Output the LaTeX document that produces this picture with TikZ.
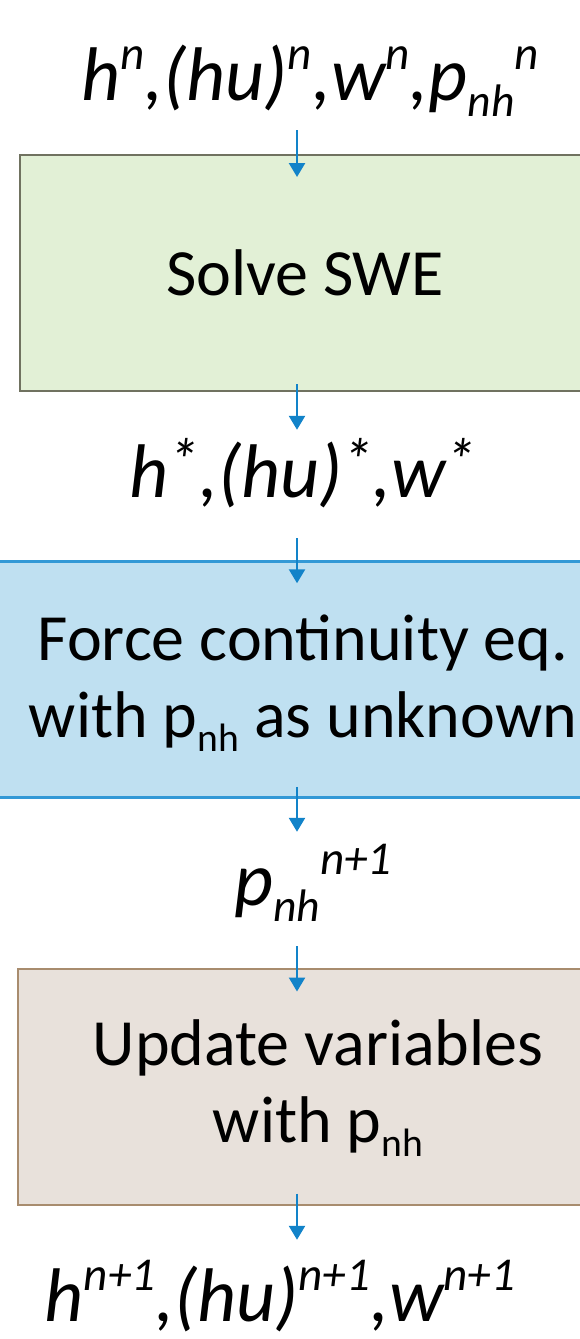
\documentclass[tikz,border=0pt]{standalone}
\usepackage{fontspec}
\setmainfont{Carlito}
\usetikzlibrary{arrows.meta}

\definecolor{swegreen}{RGB}{226,240,214}
\definecolor{sweedge}{RGB}{112,114,96}
\definecolor{contblue}{RGB}{191,224,241}
\definecolor{contedge}{RGB}{51,153,214}
\definecolor{updbeige}{RGB}{232,225,219}
\definecolor{updedge}{RGB}{168,140,110}
\definecolor{arrowblue}{RGB}{18,131,201}

\newcommand\suptxt[1]{\raisebox{0.40em}{\fontsize{0.62em}{0.62em}\selectfont #1}}
\newcommand\subtxt[1]{\raisebox{-0.22em}{\fontsize{0.6em}{0.6em}\selectfont #1}}
\newcommand\startxt{\raisebox{0.2em}{\fontsize{0.8em}{0.8em}\selectfont *}}

\begin{document}
\begin{tikzpicture}[x=1pt,y=-1pt,
  box/.style={line width=2pt,minimum width=600pt,minimum height=236pt,inner sep=0pt},
  txt/.style={inner sep=0pt,align=center,font=\fontsize{66}{77}\selectfont},
  var/.style={inner sep=0pt,anchor=base,text height=55pt,text depth=20pt,
    font=\fontsize{76}{80}\selectfont\itshape},
  flow/.style={draw=arrowblue,line width=2.5pt,-{Triangle[width=16pt,length=14pt]}}]
  \useasboundingbox (0,0) rectangle (580,1339);
  \clip (0,0) rectangle (580,1339);

  % boxes
  \node[box,draw=sweedge,fill=swegreen] (box1) at (320,273) {};
  \node[box,draw=contedge,fill=contblue,line width=2.5pt] (box2) at (290,679.5) {};
  \node[box,draw=updedge,fill=updbeige] (box3) at (318,1086.5) {};

  % texts in the boxes
  \node[txt] (txt1) at (305,273) {Solve SWE};
  \node[txt] (txt2) at (303,683) {Force continuity eq.\\with p\subtxt{nh} as unknown};
  \node[txt] (txt3) at (318,1088) {Update variables\\with p\subtxt{nh}};

  % variables between the steps
  \node[var] (lblN) at (310,100) {h\suptxt{n},(hu)\suptxt{n},w\suptxt{n},p\subtxt{nh}\suptxt{n}};
  \node[var] (lblStar) at (303,497) {h\startxt,(hu)\startxt,w\startxt};
  \node[var] (lblP) at (313,905) {p\subtxt{nh}\suptxt{n+1}};
  \node[var,text depth=8pt] (lblNext) at (280,1321) {h\suptxt{n+1},(hu)\suptxt{n+1},w\suptxt{n+1}};

  \coordinate (ax) at (297,0);

  % arrows
  \draw[flow] ([yshift=-10pt]lblN.south -| ax) -- ([yshift=-23pt]box1.north -| ax);
  \draw[flow] ([yshift=8pt]box1.south -| ax) -- ([yshift=12pt]lblStar.north -| ax);
  \draw[flow] ([yshift=-21pt]lblStar.south -| ax) -- ([yshift=-23pt]box2.north -| ax);
  \draw[flow] ([yshift=12pt]box2.south -| ax) -- ([yshift=18pt]lblP.north -| ax);
  \draw[flow] ([yshift=-21pt]lblP.south -| ax) -- ([yshift=-24pt]box3.north -| ax);
  \draw[flow] ([yshift=12pt]box3.south -| ax) -- ([yshift=26pt]lblNext.north -| ax);
\end{tikzpicture}
\end{document}
